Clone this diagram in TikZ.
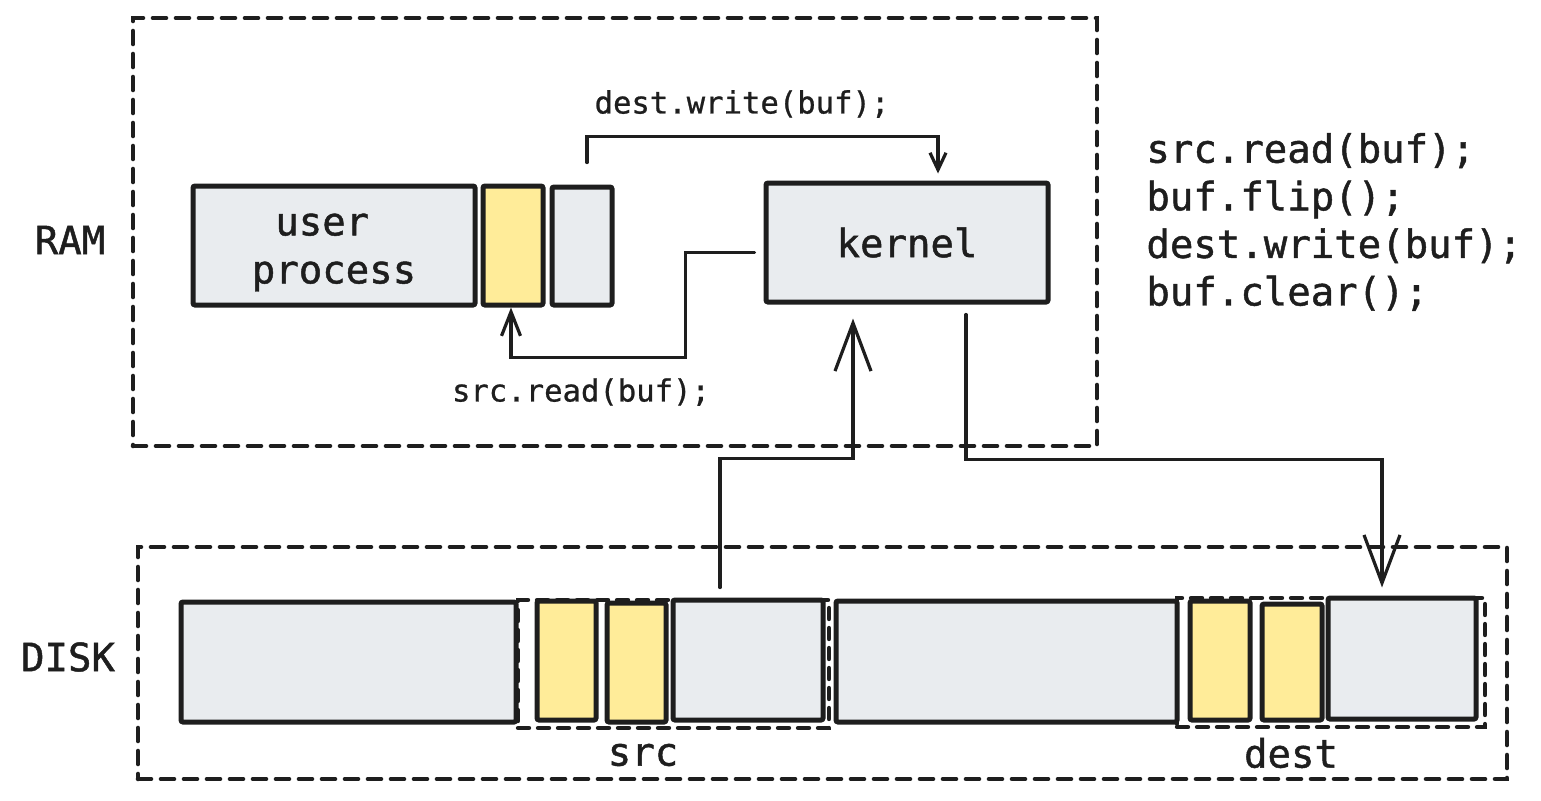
\documentclass[tikz,border=0pt]{standalone}
\usepackage{fontspec}
\newfontfamily\hand[FakeBold=1.2]{DejaVu Sans Mono}
\newfontfamily\handlight[FakeBold=0.8]{DejaVu Sans Mono}
\usetikzlibrary{arrows.meta}
\definecolor{ink}{HTML}{1E1E1E}
\definecolor{boxgray}{HTML}{E9ECEF}
\definecolor{boxyellow}{HTML}{FFEC99}
\begin{document}
\begin{tikzpicture}[x=0.5pt,y=-0.5pt,
  blk/.style={draw=ink, line width=2.5pt, rounded corners=1pt, inner sep=0pt, text=ink},
  graybox/.style={blk, fill=boxgray},
  yellowbox/.style={blk, fill=boxyellow},
  region/.style={draw=ink, line width=2.3pt, dash pattern=on 6.5pt off 5pt, line cap=round, inner sep=0pt},
  subregion/.style={draw=ink, line width=2.2pt, dash pattern=on 5.5pt off 4.5pt, line cap=round, inner sep=0pt},
  link/.style={draw=ink, line width=1.6pt, line cap=round, line join=miter},
  arrsmall/.style={-{Straight Barb[length=8.5pt,width=8pt,line width=1.6pt]}},
  arrsmallb/.style={-{Straight Barb[length=12pt,width=9.5pt,line width=1.6pt]}},
  arrbig/.style={-{Straight Barb[length=24pt,width=18pt,line width=1.6pt]}},
  bigtxt/.style={text=ink, font=\hand\fontsize{19.5}{23.8}\selectfont, inner sep=0pt},
  smalltxt/.style={text=ink, font=\handlight\fontsize{15.3}{18}\selectfont, inner sep=0pt}
]
\useasboundingbox (0,0) rectangle (1541,800);

% regions
\node[region, minimum width=482pt, minimum height=214pt] (ram) at (615,232) {};
\node[region, minimum width=684.5pt, minimum height=116pt] (disk) at (822.5,663) {};
\node[bigtxt] (ramlbl) at (70,240) {RAM};
\node[bigtxt] (disklbl) at (68,657) {DISK};

% RAM boxes
\node[graybox, minimum width=141pt, minimum height=59.5pt] (up) at (334,245.5) {};
\node[bigtxt, align=center, font=\hand\fontsize{19.5}{24}\selectfont] (uptxt) at (334,252.5) {user\hphantom{x}\\process};
\node[yellowbox, minimum width=30pt, minimum height=59.5pt] (yu) at (513,245.5) {};
\node[graybox, minimum width=30pt, minimum height=59pt] (gu) at (582,246) {};
\node[graybox, minimum width=141pt, minimum height=59.5pt, bigtxt] (k) at (907,242.5) {kernel};

% DISK boxes
\node[graybox, minimum width=167.5pt, minimum height=60pt] (big1) at (348.5,662) {};
\node[yellowbox, minimum width=29.5pt, minimum height=59.5pt] (y1) at (566.5,660.5) {};
\node[yellowbox, minimum width=29.5pt, minimum height=59.5pt] (y2) at (636.5,662.5) {};
\node[graybox, minimum width=75pt, minimum height=60pt] (gsrc) at (748,660) {};
\node[subregion, minimum width=155.5pt, minimum height=64pt] (srcreg) at (673.5,664) {};
\node[graybox, minimum width=170.5pt, minimum height=60.5pt] (big2) at (1006.5,661.5) {};
\node[yellowbox, minimum width=30pt, minimum height=59.5pt] (y3) at (1220,660.5) {};
\node[yellowbox, minimum width=30pt, minimum height=58pt] (y4) at (1292,662) {};
\node[graybox, minimum width=74pt, minimum height=60.5pt] (gdest) at (1402,658.5) {};
\node[subregion, minimum width=154pt, minimum height=64.5pt] (destreg) at (1331,662.5) {};
\node[bigtxt] (srclbl) at (643,755) {src};
\node[bigtxt] (destlbl) at (1291,753) {dest};

% labels
\node[smalltxt] (wlbl) at (742,104) {dest.write(buf);};
\node[smalltxt] (rlbl) at (581,392) {src.read(buf);};
\node[bigtxt, anchor=west, align=left] (code) at (1146,222) {src.read(buf);\\buf.flip();\\dest.write(buf);\\buf.clear();};

% connectors
\coordinate (w0) at ([shift={(5,-22)}]gu.north);
\draw[link, arrsmall] (w0) -- ++(0,-26) -| ([shift={(31,-7)}]k.north);
\draw[link, arrsmallb] ([shift={(-9,10)}]k.west) -- ++(-69,0) -- ++(0,105) -| ([xshift=-1pt]yu.south);
\draw[link, arrbig] ([shift={(-28,-10)}]gsrc.north) -- ++(0,-129) -| ([shift={(-54,14)}]k.south);
\draw[link, arrbig] ([shift={(59,10)}]k.south) -- ++(0,145) -| ([shift={(-20,-8)}]gdest.north);
\end{tikzpicture}
\end{document}
